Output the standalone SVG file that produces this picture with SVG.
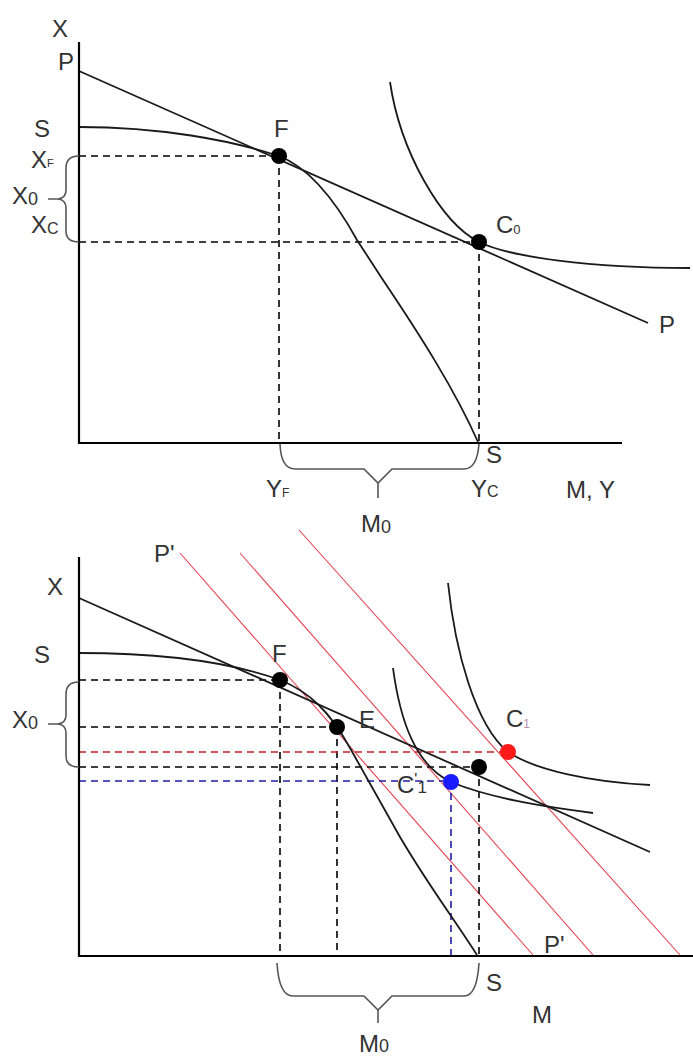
<svg xmlns="http://www.w3.org/2000/svg" width="693" height="1057" viewBox="0 0 693 1057">
<style>
text{font-family:"Liberation Sans",Arial,sans-serif;fill:#333;font-size:24px}
.sub{font-size:16px}
.axis{stroke:#000;stroke-width:2.2;fill:none}
.curve{stroke:#1a1a1a;stroke-width:1.8;fill:none}
.dash{stroke:#000;stroke-width:1.6;stroke-dasharray:7,5;fill:none}
.rdash{stroke:#c02020;stroke-width:1.6;stroke-dasharray:7,5;fill:none}
.bdash{stroke:#1c1ca8;stroke-width:1.6;stroke-dasharray:7,5;fill:none}
.red{stroke:#e84050;stroke-width:1.1;fill:none}
.brace{stroke:#555;stroke-width:1.6;fill:none}
.dot{fill:#000}
</style>
<rect width="693" height="1057" fill="#fff"/>

<g id="top-panel">
  <g id="top-dashes">
    <path class="dash" d="M79,156H279M279,156V442M79,242H479M479,242V442"/>
  </g>
  <g id="top-curves">
    <path class="curve" d="M79,71L648,323"/>
    <path class="curve" d="M79,127C160,127 230,140 279,156C310,168 335,200 357,240L383,280C420,335 455,390 478,442"/>
    <path class="curve" d="M390,82C400,150 440,222 479,242C510,257 590,268 690,268"/>
  </g>
  <g id="top-axes">
    <path class="axis" d="M79,42V443H622"/>
  </g>
  <g id="top-braces">
    <path class="brace" d="M79,156Q66,156 66,168V190Q66,198 58,199H48M58,199Q66,200 66,208V231Q66,242 79,242"/>
    <path class="brace" d="M280,444Q281,469 295,469H364L378,483L392,469H464Q477,469 479,444M378,483V498"/>
  </g>
  <g id="top-points">
    <circle class="dot" cx="279" cy="156" r="8"/>
    <circle class="dot" cx="479" cy="242" r="8"/>
  </g>
  <g id="top-labels">
    <text x="52" y="37">X</text>
    <text x="58" y="70">P</text>
    <text x="34" y="137">S</text>
    <text x="31" y="168">X<tspan font-size="11" dy="-1">F</tspan></text>
    <text x="12" y="204">X<tspan font-size="18" dy="1">0</tspan></text>
    <text x="31" y="233">X<tspan class="sub" dy="1">C</tspan></text>
    <text x="274" y="137">F</text>
    <text x="496" y="233">C<tspan font-size="13" dy="1">0</tspan></text>
    <text x="486" y="463">S</text>
    <text x="266" y="497">Y<tspan font-size="12">F</tspan></text>
    <text x="471" y="497">Y<tspan class="sub">C</tspan></text>
    <text x="566" y="498">M, Y</text>
    <text x="361" y="532">M<tspan font-size="18" dy="1">0</tspan></text>
    <text x="659" y="333">P</text>
  </g>
</g>

<g id="bottom-panel">
  <g id="bottom-red-lines">
    <path class="red" d="M180,553L533,955"/>
    <path class="red" d="M240,553L593,955"/>
    <path class="red" d="M299,530L680,955"/>
  </g>
  <g id="bottom-dashes">
    <path class="dash" d="M79,680H280M280,680V955M79,727H337M337,727V955M79,767H479M479,767V955"/>
    <path class="rdash" d="M79,752H508"/>
    <path class="bdash" d="M79,781H451M451,781V955"/>
  </g>
  <g id="bottom-curves">
    <path class="curve" d="M79,598L650,852"/>
    <path class="curve" d="M79,653C160,653 230,662 280,680C310,692 330,712 350,748L400,837C430,888 455,920 477,955"/>
    <path class="curve" d="M448,583C455,650 475,725 508,752C535,770 590,782 650,785"/>
    <path class="curve" d="M393,668C400,720 415,765 451,782C490,798 540,806 593,813"/>
  </g>
  <g id="bottom-axes">
    <path class="axis" d="M79,557V956H693"/>
  </g>
  <g id="bottom-braces">
    <path class="brace" d="M79,682Q66,682 66,694V715Q66,723 58,724H48M58,724Q66,725 66,733V756Q66,767 79,767"/>
    <path class="brace" d="M277,963Q279,996 293,996H364L378,1010L392,996H464Q477,996 479,963M378,1010V1023"/>
  </g>
  <g id="bottom-points">
    <circle class="dot" cx="280" cy="680" r="8"/>
    <circle class="dot" cx="337" cy="727" r="8"/>
    <circle class="dot" cx="479" cy="767" r="8"/>
    <circle cx="508" cy="752" r="8" fill="#ff1a1a"/>
    <circle cx="451" cy="782" r="8" fill="#1a1aff"/>
  </g>
  <g id="bottom-labels">
    <text x="47" y="595" font-size="20">X</text>
    <text x="34" y="663">S</text>
    <text x="12" y="728">X<tspan font-size="18" dy="1">0</tspan></text>
    <text x="154" y="562">P'</text>
    <text x="272" y="662">F</text>
    <text x="359" y="728">E</text>
    <text x="506" y="727">C<tspan font-size="12" dy="1" fill="#b890b0">1</tspan></text>
    <text x="397" y="793" fill="#1a1a50">C<tspan font-size="16" dy="-8">'</tspan><tspan font-size="17" dy="8">1</tspan></text>
    <text x="544" y="953">P'</text>
    <text x="486" y="991">S</text>
    <text x="532" y="1023">M</text>
    <text x="359" y="1052">M<tspan font-size="18">0</tspan></text>
  </g>
</g>
</svg>
